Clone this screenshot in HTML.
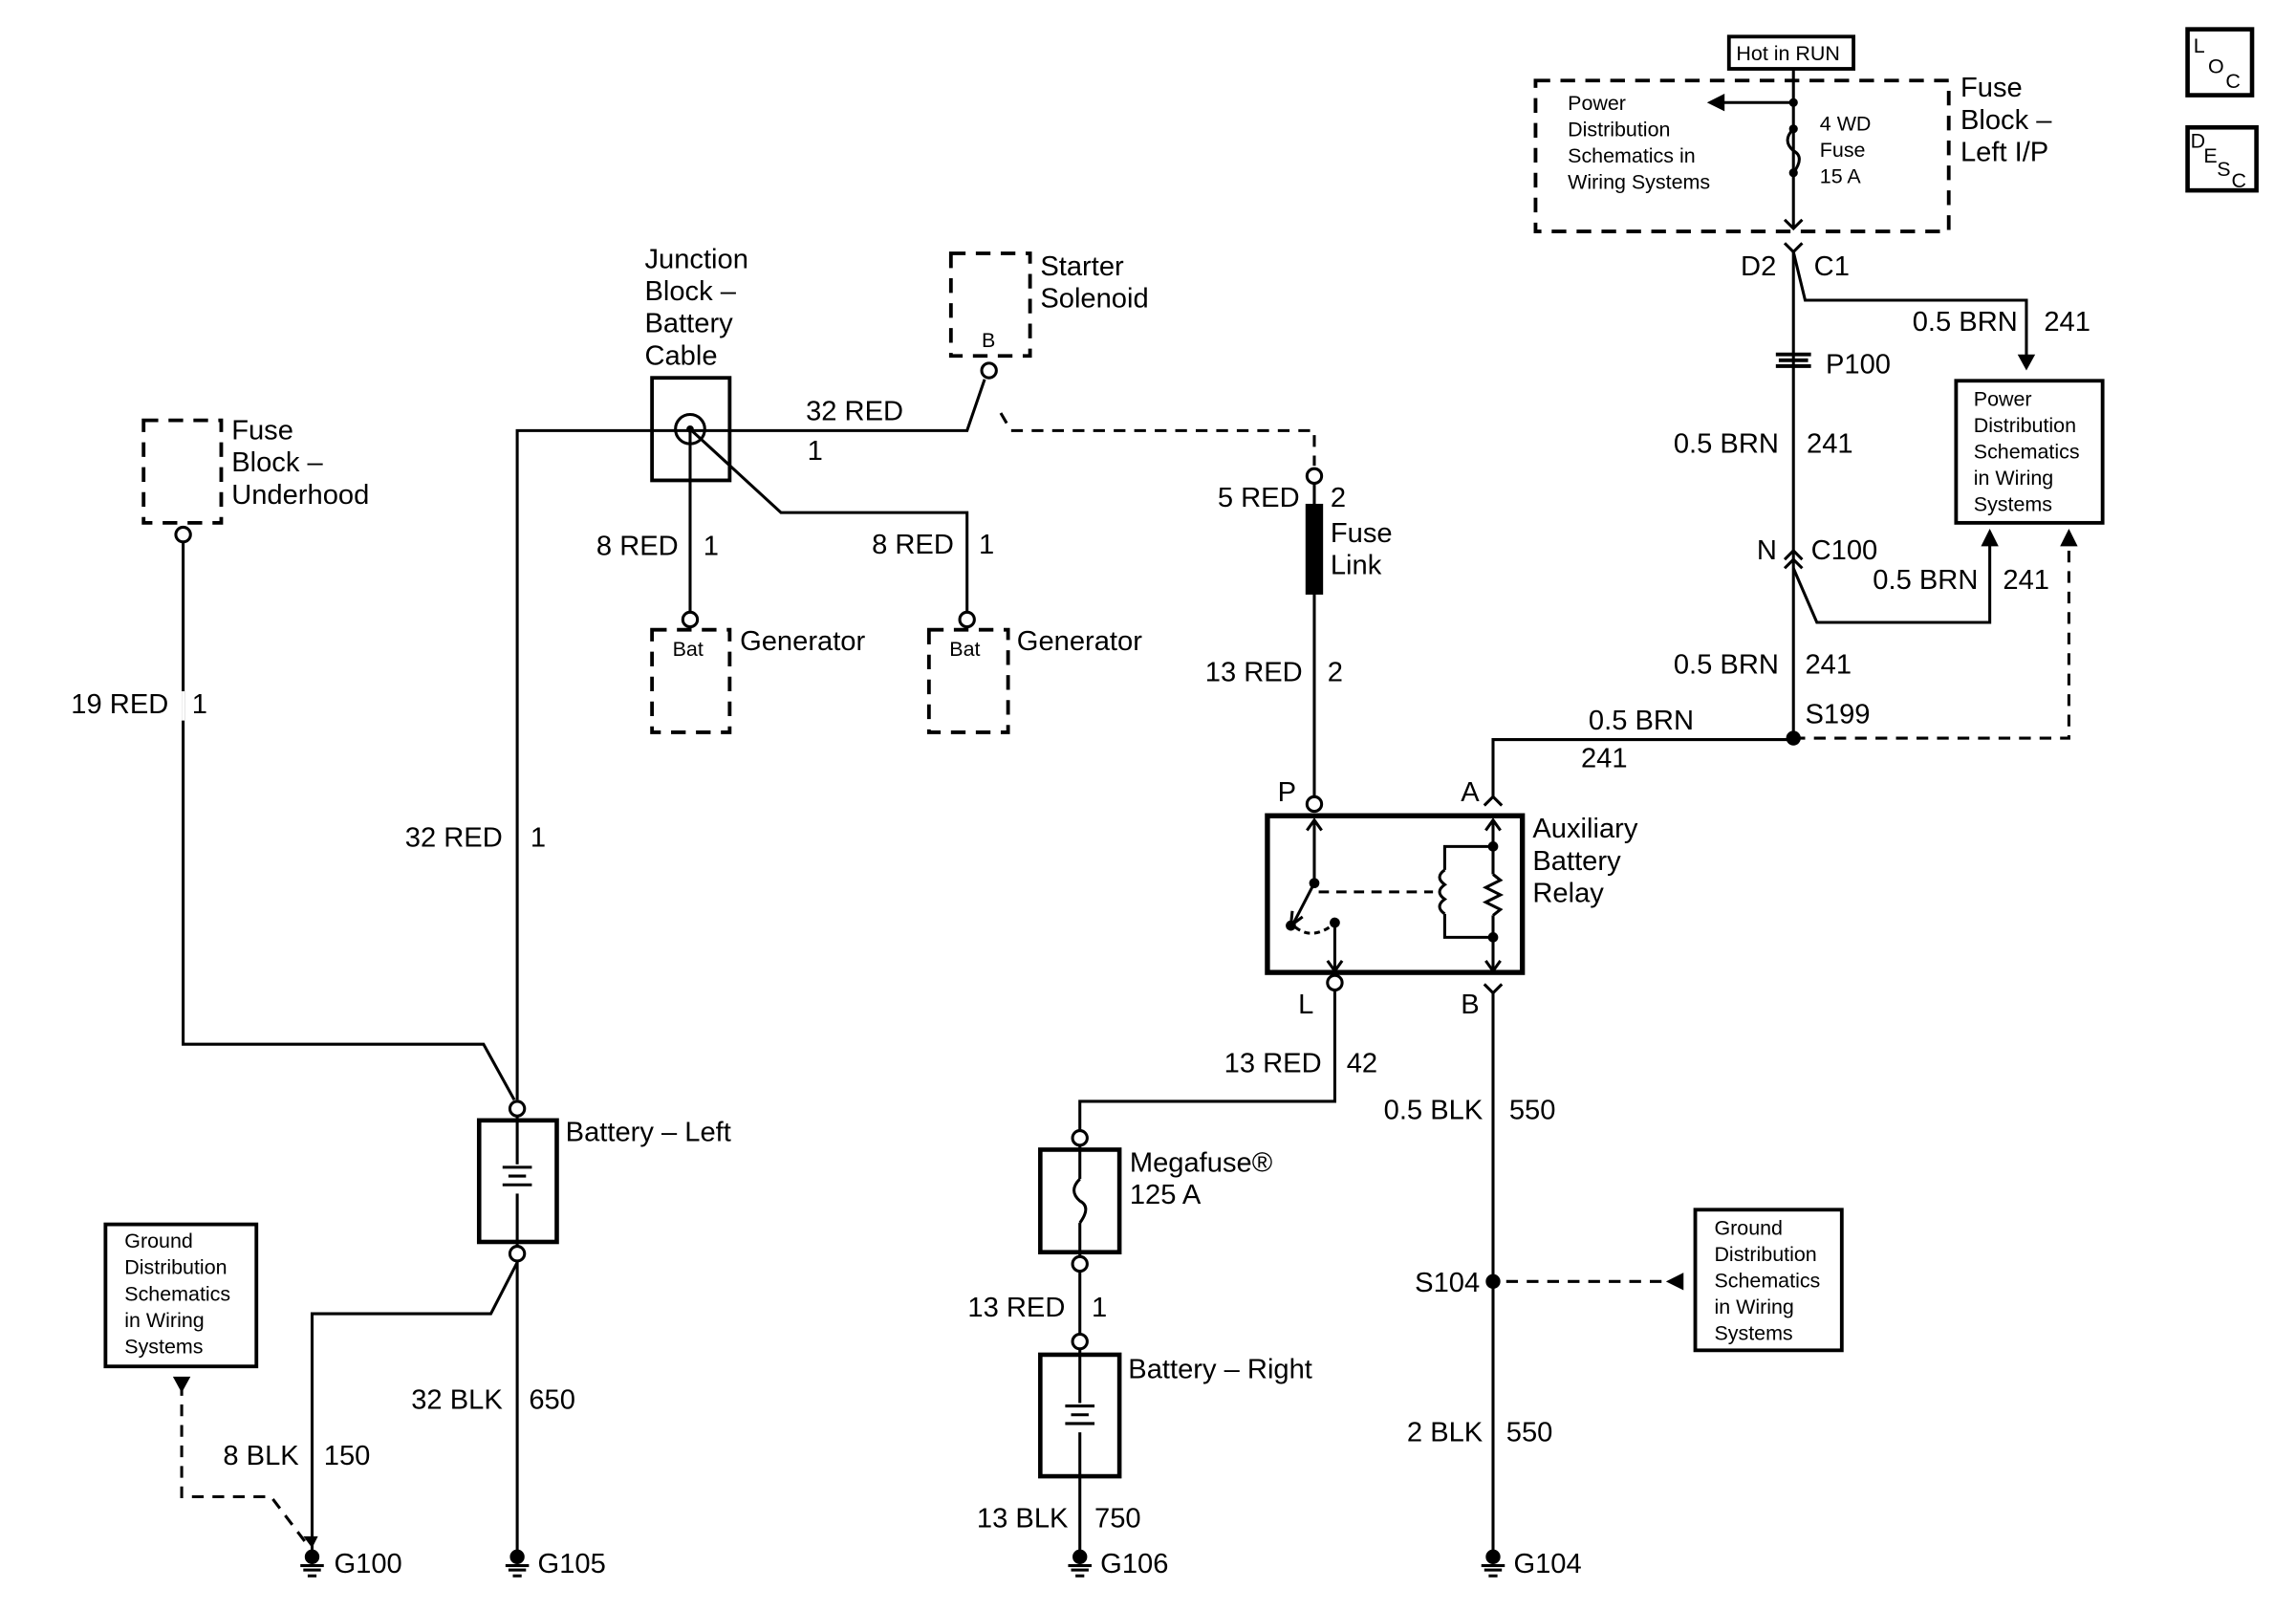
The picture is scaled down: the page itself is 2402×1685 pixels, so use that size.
<!DOCTYPE html>
<html><head><meta charset="utf-8"><style>
html,body{margin:0;padding:0;background:#fff;}
svg{display:block;}
text{font-family:"Liberation Sans",Arial,sans-serif;font-size:19px;fill:#000;}
.s{font-size:14px;}
.e{text-anchor:end;}
</style></head><body>
<svg width="2402" height="1685" viewBox="0 0 1567 1100" preserveAspectRatio="none" xmlns="http://www.w3.org/2000/svg">
<defs>
<g id="g"><circle cx="0" cy="1063" r="5"/><rect x="-8" y="1068" width="16" height="2"/><rect x="-6" y="1071" width="12" height="2"/><rect x="-3" y="1075" width="6" height="2"/></g>
</defs>
<g fill="none" stroke="#000" stroke-width="2">
<rect x="98" y="287" width="53" height="70" stroke-dasharray="10,7" stroke-width="2.5"/>
<circle cx="125" cy="365" r="5"/>
<polyline points="125,370 125,713 330,713 351,751"/>
<line x1="125" y1="472" x2="125" y2="492" stroke="#fff"/>
<polyline points="353,751 353,294 660,294 672,259"/>
<circle cx="675" cy="253" r="5"/>
<rect x="445" y="258" width="53" height="70" stroke-width="2.5"/>
<circle cx="471" cy="293" r="10"/>
<polyline points="471,293 533,350 660,350 660,418"/>
<line x1="471" y1="293" x2="471" y2="418"/>
<circle cx="471" cy="423" r="5"/>
<circle cx="660" cy="423" r="5"/>
<rect x="445" y="430" width="53" height="70" stroke-dasharray="10,7" stroke-width="2.5"/>
<rect x="634" y="430" width="54" height="70" stroke-dasharray="10,7" stroke-width="2.5"/>
<rect x="649" y="173" width="54" height="70" stroke-dasharray="10,7" stroke-width="2.5"/>
<polyline points="683,282 690,294 897,294 897,318" stroke-dasharray="8,6"/>
<circle cx="897" cy="325" r="5"/>
<line x1="897" y1="330" x2="897" y2="544"/>
<rect x="892" y="345" width="10" height="60" fill="#000"/>
<circle cx="897" cy="549" r="5"/>
<rect x="865" y="557" width="174" height="107" stroke-width="3.5"/>
<circle cx="911" cy="671" r="5"/>
<line x1="897" y1="560" x2="897" y2="603"/>
<polyline points="892,567 897,560 902,567"/>
<line x1="897" y1="603" x2="883" y2="630"/>
<polyline points="882,622 881,632 889,626"/>
<line x1="900" y1="609" x2="978" y2="609" stroke-dasharray="7,5"/>
<path d="M884,633 Q895,642 909,632" stroke-dasharray="4,3"/>
<line x1="911" y1="630" x2="911" y2="664"/>
<polyline points="906,656 911,663 916,656"/>
<polyline points="1019,578 986,578 986,594"/>
<path d="M986,594 q-7,5 0,10 q-7,5 0,10 q-7,5 0,10"/>
<polyline points="986,624 986,640 1019,640"/>
<line x1="1019" y1="560" x2="1019" y2="597"/>
<polyline points="1019,597 1024,601 1014,606 1024,611 1014,616 1024,621 1019,625"/>
<line x1="1019" y1="625" x2="1019" y2="663"/>
<polyline points="1014,567 1019,560 1024,567"/>
<polyline points="1014,656 1019,663 1024,656"/>
<polyline points="1013,550 1019,544 1025,550"/>
<polyline points="1013,672 1019,678 1025,672"/>
<polyline points="1019,545 1019,505 1224,505"/>
<line x1="1019" y1="678" x2="1019" y2="1060"/>
<polyline points="1224,504 1412,504 1412,370" stroke-dasharray="8,6"/>
<line x1="1224" y1="48" x2="1224" y2="155"/>
<line x1="1224" y1="172" x2="1224" y2="504"/>
<polyline points="1218,150 1224,156 1230,150"/>
<polyline points="1218,166 1224,172 1230,166"/>
<polyline points="1224,172 1232,205 1383,205 1383,245"/>
<path d="M1212,242 h24 M1214,246 h20 M1212,250 h24" stroke-width="2.5"/>
<polyline points="1218,382 1224,376 1230,382"/>
<polyline points="1218,388 1224,382 1230,388"/>
<polyline points="1224,388 1240,425 1358,425 1358,370"/>
<rect x="1335" y="260" width="100" height="97" stroke-width="2.5"/>
<rect x="1048" y="55" width="282" height="103" stroke-dasharray="10,7" stroke-width="2.5"/>
<rect x="1180" y="25" width="85" height="22" stroke-width="2.5"/>
<line x1="1224" y1="70" x2="1175" y2="70"/>
<path d="M1224,88 q-8,8 0,15 q8,4 0,15"/>
<rect x="1493" y="20" width="44" height="45" stroke-width="3"/>
<rect x="1493" y="87" width="47" height="43" stroke-width="3"/>
<polyline points="911,676 911,752 737,752 737,772"/>
<circle cx="737" cy="777" r="5"/>
<rect x="710" y="785" width="54" height="70" stroke-width="3"/>
<line x1="737" y1="782" x2="737" y2="805"/>
<path d="M737,805 q-8,8 0,15 q8,4 0,15"/>
<line x1="737" y1="835" x2="737" y2="858"/>
<circle cx="737" cy="863" r="5"/>
<line x1="737" y1="868" x2="737" y2="911"/>
<circle cx="737" cy="916" r="5"/>
<rect x="710" y="925" width="54" height="83" stroke-width="3"/>
<line x1="737" y1="921" x2="737" y2="958"/>
<line x1="737" y1="978" x2="737" y2="1060"/>
<path d="M727,960 h20 M731,966 h12 M727,972 h20" />
<line x1="1028" y1="875" x2="1138" y2="875" stroke-dasharray="8,6"/>
<rect x="1157" y="826" width="100" height="96" stroke-width="2.5"/>
<circle cx="353" cy="757" r="5"/>
<rect x="327" y="765" width="53" height="83" stroke-width="3"/>
<line x1="353" y1="762" x2="353" y2="795"/>
<line x1="353" y1="815" x2="353" y2="851"/>
<path d="M343,797 h20 M347,803 h12 M343,809 h20"/>
<circle cx="353" cy="856" r="5"/>
<line x1="353" y1="861" x2="353" y2="1060"/>
<polyline points="353,862 335,897 213,897 213,1060"/>
<rect x="72" y="836" width="103" height="97" stroke-width="2.5"/>
<polyline points="124,945 124,1022 185,1022 210,1055" stroke-dasharray="8,6"/>
</g>
<g fill="#000">
<circle cx="471" cy="293" r="2.5"/>
<circle cx="897" cy="603" r="3.5"/><circle cx="881" cy="632" r="3.5"/><circle cx="911" cy="630" r="3.5"/>
<circle cx="1019" cy="578" r="3.5"/><circle cx="1019" cy="640" r="3.5"/>
<circle cx="1224" cy="504" r="5"/><circle cx="1019" cy="875" r="5"/>
<circle cx="1224" cy="70" r="3"/><circle cx="1224" cy="88" r="3"/><circle cx="1224" cy="118" r="3"/>
<polygon points="1165,70 1177,64 1177,76"/>
<polygon points="1377,242 1389,242 1383,253"/>
<polygon points="1352,373 1364,373 1358,361"/>
<polygon points="1406,373 1418,373 1412,361"/>
<polygon points="1137,875 1149,869 1149,881"/>
<polygon points="118,940 130,940 124,951"/>
<polygon points="207,1049 217,1049 213,1057"/>
<use href="#g" x="213"/><use href="#g" x="353"/><use href="#g" x="737"/><use href="#g" x="1019"/>
</g>
<text x="158" y="300">Fuse</text><text x="158" y="322">Block –</text><text x="158" y="344">Underhood</text>
<text class="e" x="115" y="487">19 RED</text><text x="131" y="487">1</text>
<text x="440" y="183">Junction</text><text x="440" y="205">Block –</text><text x="440" y="227">Battery</text><text x="440" y="249">Cable</text>
<text x="710" y="188">Starter</text><text x="710" y="210">Solenoid</text>
<text class="s" x="670" y="237">B</text>
<text x="550" y="287">32 RED</text><text x="551" y="314">1</text>
<text class="e" x="463" y="379">8 RED</text><text x="480" y="379">1</text>
<text class="e" x="651" y="378">8 RED</text><text x="668" y="378">1</text>
<text class="s" x="459" y="448">Bat</text><text x="505" y="444">Generator</text>
<text class="s" x="648" y="448">Bat</text><text x="694" y="444">Generator</text>
<text class="e" x="887" y="346">5 RED</text><text x="908" y="346">2</text>
<text x="908" y="370">Fuse</text><text x="908" y="392">Link</text>
<text class="e" x="889" y="465">13 RED</text><text x="906" y="465">2</text>
<text x="872" y="547">P</text><text x="997" y="547">A</text>
<text x="1046" y="572">Auxiliary</text><text x="1046" y="594">Battery</text><text x="1046" y="616">Relay</text>
<text x="886" y="692">L</text><text x="997" y="692">B</text>
<text class="e" x="1156" y="498">0.5 BRN</text><text x="1079" y="524">241</text><text x="1232" y="494">S199</text>
<text class="e" x="1214" y="460">0.5 BRN</text><text x="1232" y="460">241</text>
<text x="1199" y="382">N</text><text x="1236" y="382">C100</text>
<text class="e" x="1350" y="402">0.5 BRN</text><text x="1367" y="402">241</text>
<text class="e" x="1214" y="309">0.5 BRN</text><text x="1233" y="309">241</text>
<text x="1246" y="255">P100</text>
<text x="1188" y="188">D2</text><text x="1238" y="188">C1</text>
<text class="e" x="1377" y="226">0.5 BRN</text><text x="1395" y="226">241</text>
<text class="s" x="1347" y="277">Power</text><text class="s" x="1347" y="295">Distribution</text><text class="s" x="1347" y="313">Schematics</text><text class="s" x="1347" y="331">in Wiring</text><text class="s" x="1347" y="349">Systems</text>
<text class="s" x="1185" y="41">Hot in RUN</text>
<text class="s" x="1070" y="75">Power</text><text class="s" x="1070" y="93">Distribution</text><text class="s" x="1070" y="111">Schematics in</text><text class="s" x="1070" y="129">Wiring Systems</text>
<text class="s" x="1242" y="89">4 WD</text><text class="s" x="1242" y="107">Fuse</text><text class="s" x="1242" y="125">15 A</text>
<text x="1338" y="66">Fuse</text><text x="1338" y="88">Block –</text><text x="1338" y="110">Left I/P</text>
<text class="s" x="1497" y="36">L</text><text class="s" x="1507" y="50">O</text><text class="s" x="1519" y="60">C</text>
<text class="s" x="1495" y="101">D</text><text class="s" x="1504" y="111">E</text><text class="s" x="1513" y="120">S</text><text class="s" x="1523" y="128">C</text>
<text class="e" x="902" y="732">13 RED</text><text x="919" y="732">42</text>
<text x="771" y="800">Megafuse®</text><text x="771" y="822">125 A</text>
<text class="e" x="727" y="899">13 RED</text><text x="745" y="899">1</text>
<text x="770" y="941">Battery – Right</text>
<text class="e" x="729" y="1043">13 BLK</text><text x="747" y="1043">750</text>
<text x="751" y="1074">G106</text>
<text class="e" x="1012" y="764">0.5 BLK</text><text x="1030" y="764">550</text>
<text class="e" x="1010" y="882">S104</text>
<text class="s" x="1170" y="843">Ground</text><text class="s" x="1170" y="861">Distribution</text><text class="s" x="1170" y="879">Schematics</text><text class="s" x="1170" y="897">in Wiring</text><text class="s" x="1170" y="915">Systems</text>
<text class="e" x="1012" y="984">2 BLK</text><text x="1028" y="984">550</text>
<text x="1033" y="1074">G104</text>
<text class="e" x="343" y="578">32 RED</text><text x="362" y="578">1</text>
<text x="386" y="779">Battery – Left</text>
<text class="s" x="85" y="852">Ground</text><text class="s" x="85" y="870">Distribution</text><text class="s" x="85" y="888">Schematics</text><text class="s" x="85" y="906">in Wiring</text><text class="s" x="85" y="924">Systems</text>
<text class="e" x="343" y="962">32 BLK</text><text x="361" y="962">650</text>
<text class="e" x="204" y="1000">8 BLK</text><text x="221" y="1000">150</text>
<text x="228" y="1074">G100</text><text x="367" y="1074">G105</text>
</svg>
</body></html>
